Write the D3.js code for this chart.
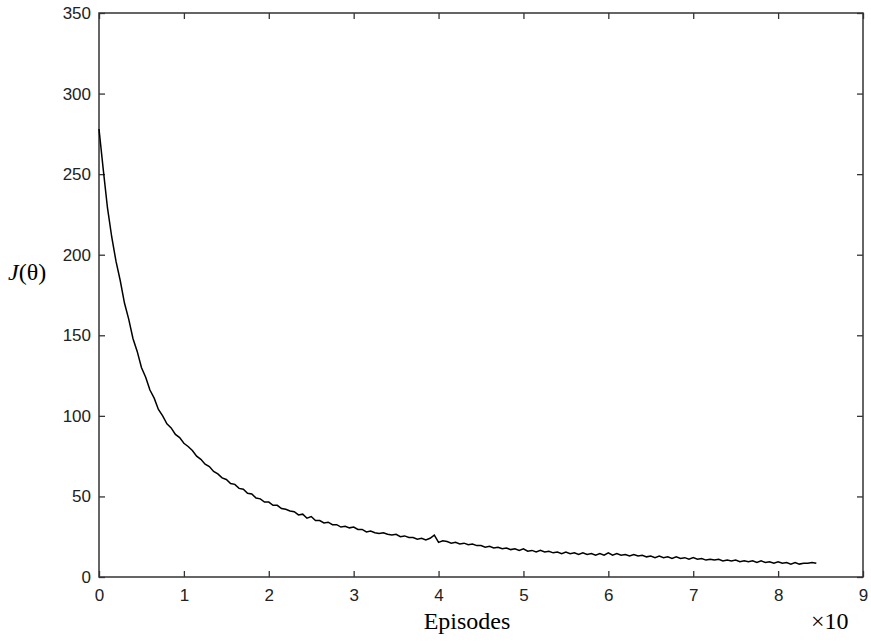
<!DOCTYPE html>
<html>
<head>
<meta charset="utf-8">
<script src="https://cdn.jsdelivr.net/npm/d3@7"></script>
<style>
  body { margin: 0; background: #fff; }
  .tick text { font-family: "Liberation Sans", Arial, sans-serif; font-size: 17px; fill: #222; }
  .serif { font-family: "Liberation Serif", "Times New Roman", serif; fill: #000; }
</style>
</head>
<body>
<script>
// episodes axis (x10), sampled every 0.05
var xStep = 0.05;
var xTicks = [0, 1, 2, 3, 4, 5, 6, 7, 8, 9];
var yTicks = [0, 50, 100, 150, 200, 250, 300, 350];

// J(theta)
var jValues = [
  278, 253, 229, 211, 196, 184, 170, 160, 148, 140,
  130, 124, 116, 111, 104, 100, 95, 92.5, 88.5, 86.5,
  83, 81, 78.5, 75, 73, 70, 68.5, 65.5, 64, 61.5,
  60.5, 58, 57.5, 55, 54.5, 52, 51.5, 49, 48.5, 46.5,
  46.5, 44.5, 44.5, 42.5, 42, 41, 40.5, 38.5, 39, 36.5,
  37.5, 35, 35, 33.5, 34, 32.5, 32.5, 31, 31.5, 30.5,
  31, 29.5, 29.5, 28, 28.5, 27.5, 27, 27.5, 26.5, 26,
  26.5, 25, 25.5, 24.5, 24.5, 23.5, 24, 23, 24, 26,
  21.5, 22.5, 22, 21, 21.5, 20.5, 21, 20, 20.5, 19.5,
  19.5, 18.5, 19, 18, 18.5, 17.5, 18, 17, 17.5, 16.5,
  17.5, 16, 16.5, 15.5, 16.5, 15.5, 16, 15, 15.5, 14.5,
  15.5, 14.5, 15, 14, 15, 14, 14.5, 13.5, 14.5, 13.5,
  15, 13.5, 14.5, 13.5, 14, 13, 14, 13, 13.5, 12.5,
  13, 12, 13, 12, 12.5, 11.5, 12.5, 11.5, 12, 11,
  12, 11, 11.5, 10.5, 11, 10.5, 11, 10, 10.5, 10,
  10.5, 9.5, 10, 9.5, 10, 9, 10, 9, 9.5, 8.5,
  9.5, 8.5, 9, 8, 9, 8, 8.5, 8.5, 9, 8.5
];

var width = 871, height = 643;
var margin = {top: 13, right: 8, bottom: 66, left: 99};
var w = width - margin.left - margin.right,
    h = height - margin.top - margin.bottom;

var svg = d3.select("body").append("svg")
    .attr("width", width)
    .attr("height", height);

var g = svg.append("g")
    .attr("transform", "translate(" + margin.left + "," + margin.top + ")");

var x = d3.scaleLinear().domain([0, 9]).range([0, w]);
var y = d3.scaleLinear().domain([0, 350]).range([h, 0]);

var axisColor = "#333";

function styleAxis(sel) {
  sel.select(".domain").remove();
  sel.selectAll(".tick line").attr("stroke", axisColor).attr("stroke-width", 1.3);
}

// bottom + left with labels, top + right ticks only
g.append("g")
    .attr("transform", "translate(0," + h + ")")
    .call(d3.axisBottom(x).tickValues(xTicks).tickSize(-6).tickPadding(12).tickFormat(d3.format("d")))
    .call(styleAxis);

g.append("g")
    .call(d3.axisLeft(y).tickValues(yTicks).tickSize(-6).tickPadding(8).tickFormat(d3.format("d")))
    .call(styleAxis);

g.append("g")
    .call(d3.axisTop(x).tickValues(xTicks).tickSize(-6).tickFormat(""))
    .call(styleAxis);

g.append("g")
    .attr("transform", "translate(" + w + ",0)")
    .call(d3.axisRight(y).tickValues(yTicks).tickSize(-6).tickFormat(""))
    .call(styleAxis);

g.append("rect")
    .attr("width", w)
    .attr("height", h)
    .attr("fill", "none")
    .attr("stroke", axisColor)
    .attr("stroke-width", 1.5);

var line = d3.line()
    .x(function(d, i) { return x(i * xStep); })
    .y(function(d) { return y(d); });

g.append("path")
    .datum(jValues)
    .attr("d", line)
    .attr("fill", "none")
    .attr("stroke", "#000")
    .attr("stroke-width", 1.5);

// labels
svg.append("text")
    .attr("class", "serif")
    .attr("x", 8)
    .attr("y", 280)
    .attr("font-size", 24)
    .html('<tspan font-style="italic">J</tspan>(θ)');

svg.append("text")
    .attr("class", "serif")
    .attr("x", 467)
    .attr("y", 629)
    .attr("text-anchor", "middle")
    .attr("font-size", 24)
    .text("Episodes");

svg.append("text")
    .attr("class", "serif")
    .attr("x", 811)
    .attr("y", 629)
    .attr("font-size", 24)
    .text("×10");
</script>
</body>
</html>
